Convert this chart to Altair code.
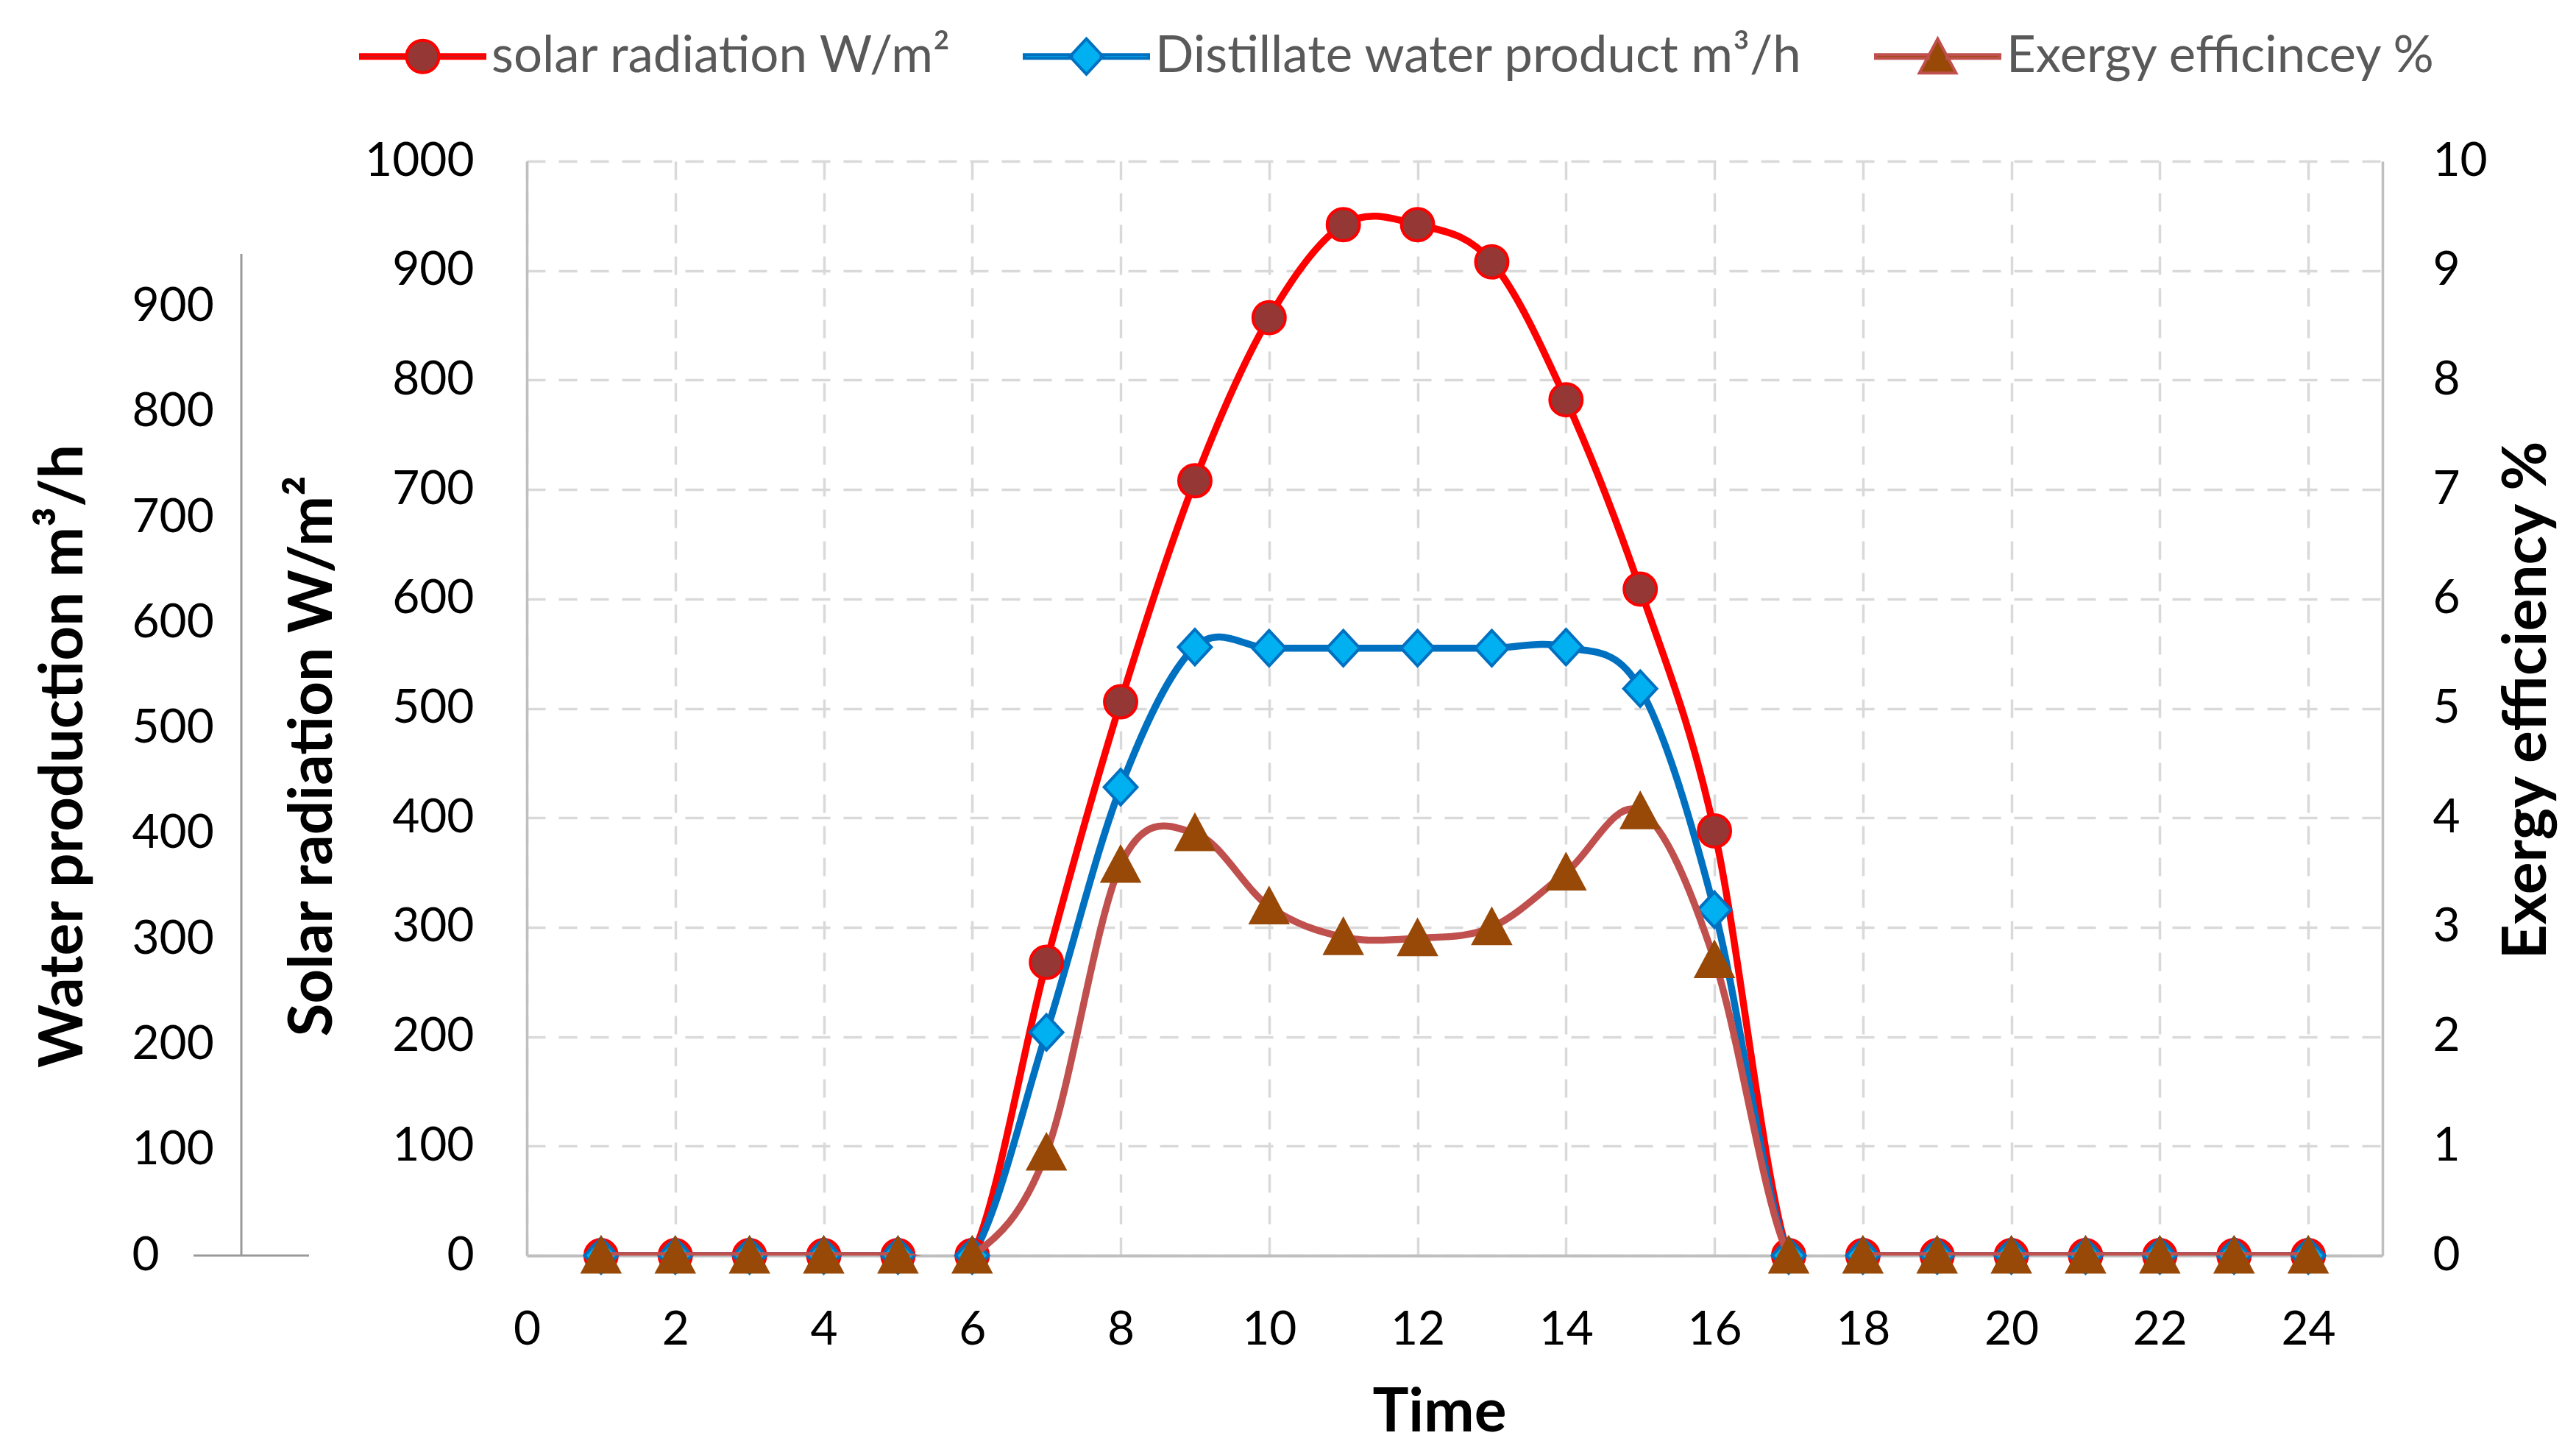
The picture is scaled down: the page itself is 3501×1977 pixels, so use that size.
import altair as alt
import pandas as pd

# ---------------- data ----------------
hours = list(range(1, 25))
solar = [0, 0, 0, 0, 0, 0, 268, 506, 708, 857, 942, 942, 908, 782, 609, 388, 0, 0, 0, 0, 0, 0, 0, 0]
water = [0, 0, 0, 0, 0, 0, 204, 428, 556, 555, 555, 555, 555, 556, 518, 316, 0, 0, 0, 0, 0, 0, 0, 0]
exergy = [0, 0, 0, 0, 0, 0, 0.94, 3.57, 3.86, 3.19, 2.91, 2.90, 3.00, 3.50, 4.06, 2.70, 0, 0, 0, 0, 0, 0, 0, 0]

series_names = ["solar radiation W/m²", "Distillate water product m³/h", "Exergy efficincey %"]
line_colors = ["#FF0000", "#0070C0", "#C0504D"]
marker_fills = ["#953735", "#00B0F0", "#984807"]
marker_strokes = ["#FF0000", "#0070C0", "#984807"]

x_ticks = list(range(0, 25, 2))
solar_ticks = list(range(0, 1001, 100))
water_ticks = list(range(0, 901, 100))
exergy_ticks = list(range(0, 11))
water_axis_span = [0, 950]

# ---------------- frames ----------------
left_df = pd.DataFrame({
    "hour": hours * 2,
    "value": solar + water,
    "series": [series_names[0]] * 24 + [series_names[1]] * 24,
})
right_df = pd.DataFrame({
    "hour": hours,
    "value": exergy,
    "series": [series_names[2]] * 24,
})
water_df = pd.DataFrame({"y0": [water_axis_span[0]], "y1": [water_axis_span[1]]})
legend_df = pd.DataFrame({"lg": pd.Series([], dtype=str)})

# ---------------- styling ----------------
FONT = "Lato"
SYM = 28561  # symbol size (sqrt = 169 px, unit path coords scaled by 84.5)
marker_paths = [
    "M-0.26,0A0.26,0.26,0,1,1,0.26,0A0.26,0.26,0,1,1,-0.26,0Z",
    "M0,-0.285L0.265,0L0,0.285L-0.265,0Z",
    "M0,-0.285L0.295,0.265L-0.295,0.265Z",
]


def bars(e):
    b = 0.03
    return (f"M-1,-{b}L-{e},-{b}L-{e},{b}L-1,{b}Z"
            f"M{e},-{b}L1,-{b}L1,{b}L{e},{b}Z")


legend_paths = [
    bars(0.259) + marker_paths[0],
    bars(0.237) + marker_paths[1],
    bars(0.15) + marker_paths[2],
]

legend_cfg = alt.Legend(
    orient="none", legendX=-228, legendY=-229, direction="horizontal", title=None,
    padding=0, symbolSize=SYM, symbolStrokeWidth=4, symbolOpacity=1, labelFont=FONT,
    labelFontSize=69, labelLimit=3000, labelOffset=7, columnPadding=90, labelColor="#595959",
)

x_enc = alt.X(
    "hour:Q",
    scale=alt.Scale(domain=[0, 25], nice=False, zero=False),
    axis=alt.Axis(
        values=x_ticks, orient="bottom", grid=True, gridDash=[25, 18], gridColor="#D9D9D9",
        gridWidth=3.5, domainColor="#BFBFBF", domainWidth=4, ticks=False, labelFlush=False,
        labelPadding=69, labelFont=FONT, labelFontSize=64, labelColor="#000000",
        title="Time", titleFont=FONT, titleFontSize=82, titleFontWeight="bold",
        titleColor="#000000", titleX=1240, titleY=238, titleAlign="center",
        titleBaseline="alphabetic", titleAngle=0,
    ),
)

color_enc = alt.Color("series:N", scale=alt.Scale(domain=series_names, range=line_colors), legend=None)


def marker_encodings(names):
    idx = [series_names.index(n) for n in names]
    return dict(
        shape=alt.Shape("series:N", scale=alt.Scale(domain=names, range=[marker_paths[i] for i in idx]), legend=None),
        fill=alt.Fill("series:N", scale=alt.Scale(domain=names, range=[marker_fills[i] for i in idx]), legend=None),
        stroke=alt.Stroke("series:N", scale=alt.Scale(domain=names, range=[marker_strokes[i] for i in idx]), legend=None),
    )


y_left = alt.Y(
    "value:Q",
    scale=alt.Scale(domain=[0, 1000], nice=False),
    axis=alt.Axis(
        orient="left", values=solar_ticks, format="d", grid=True, gridDash=[25, 18],
        gridColor="#D9D9D9", gridWidth=3.5, domainColor="#BFBFBF", domainWidth=3.5, ticks=False,
        labelPadding=72, labelFont=FONT, labelFontSize=64, labelColor="#000000",
        title="Solar radiation W/m²", titleFont=FONT, titleFontSize=82, titleFontWeight="bold",
        titleColor="#000000", titleX=-266, titleY=808, titleAngle=270, titleAlign="center",
        titleBaseline="alphabetic",
    ),
)
y_right = alt.Y(
    "value:Q",
    scale=alt.Scale(domain=[0, 10], nice=False),
    axis=alt.Axis(
        orient="right", values=exergy_ticks, format="d", grid=False, domainColor="#BFBFBF",
        domainWidth=3.5, ticks=False, labelPadding=68, labelFont=FONT, labelFontSize=64,
        labelColor="#000000", title="Exergy efficiency %", titleFont=FONT, titleFontSize=82,
        titleFontWeight="bold", titleColor="#000000", titleX=221, titleY=732, titleAngle=270,
        titleAlign="center", titleBaseline="alphabetic",
    ),
)
y_water = alt.Y(
    "y0:Q",
    scale=alt.Scale(domain=[0, 1038], nice=False),
    axis=alt.Axis(
        orient="left", offset=388, values=water_ticks, format="d", grid=False, domain=False,
        ticks=False, labelAlign="left", labelPadding=149, labelFont=FONT, labelFontSize=64,
        labelColor="#000000", title="Water production m³/h", titleFont=FONT, titleFontSize=82,
        titleFontWeight="bold", titleColor="#000000", titleX=-217, titleY=808, titleAngle=270,
        titleAlign="center", titleBaseline="alphabetic",
    ),
)

line_kw = dict(interpolate="cardinal", tension=0, strokeWidth=9.5, clip=True)
point_kw = dict(filled=True, size=SYM, strokeWidth=4, opacity=1)

left_lines = alt.Chart(left_df).mark_line(**line_kw).encode(x=x_enc, y=y_left, color=color_enc)
left_points = alt.Chart(left_df).mark_point(**point_kw).encode(
    x=x_enc, y=y_left, **marker_encodings(series_names[:2])
)
right_lines = alt.Chart(right_df).mark_line(**line_kw).encode(x=x_enc, y=y_right, color=color_enc)
right_points = alt.Chart(right_df).mark_point(**point_kw).encode(
    x=x_enc, y=y_right, **marker_encodings(series_names[2:])
)

water_vline = alt.Chart(water_df).mark_rule(color="#999999", strokeWidth=3).encode(
    x=alt.value(-388), y=y_water, y2=alt.Y2("y1:Q")
)
water_hline = alt.Chart(water_df).mark_rule(color="#999999", strokeWidth=3).encode(
    x=alt.value(-453), x2=alt.value(-296), y=y_water
)

legend_layer = alt.Chart(legend_df).mark_point(filled=True, size=SYM, strokeWidth=4, opacity=1).encode(
    shape=alt.Shape("lg:N", scale=alt.Scale(domain=series_names, range=legend_paths), legend=legend_cfg),
    fill=alt.Fill("lg:N", scale=alt.Scale(domain=series_names, range=marker_fills), legend=legend_cfg),
    stroke=alt.Stroke("lg:N", scale=alt.Scale(domain=series_names, range=line_colors), legend=legend_cfg),
)

left_layer = alt.layer(left_lines, left_points)
right_layer = alt.layer(right_lines, right_points)
water_layer = alt.layer(water_vline, water_hline)

chart = (
    alt.layer(left_layer, right_layer, water_layer, legend_layer)
    .resolve_scale(y="independent", shape="independent", fill="independent", stroke="independent")
    .properties(
        width=2522, height=1487,
        autosize=alt.AutoSizeParams(type="none"),
        padding={"left": 708, "top": 211, "right": 250, "bottom": 255},
    )
    .configure(font=FONT, background="white")
    .configure_view(stroke=None)
)

chart.save("out.html", embed_options={"renderer": "svg", "actions": False})
